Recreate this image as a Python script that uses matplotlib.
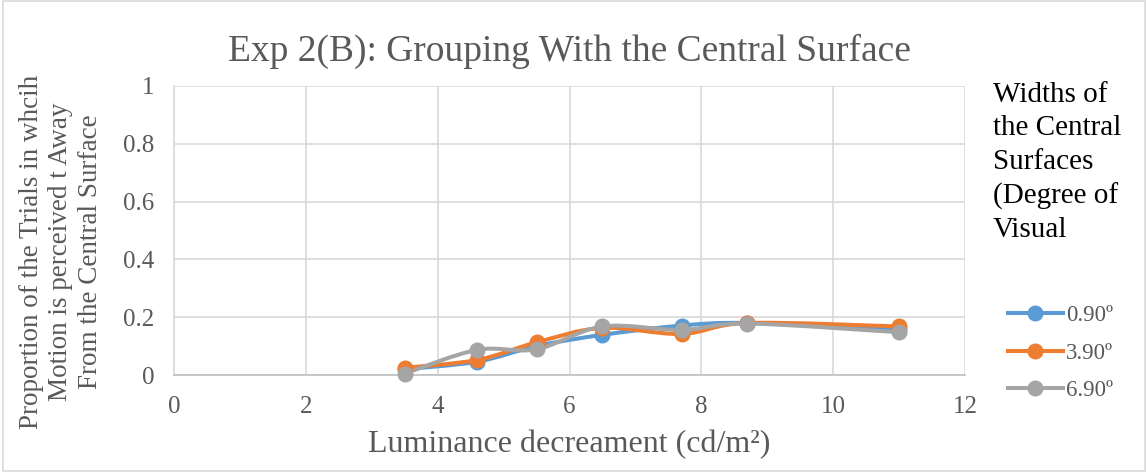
import matplotlib
matplotlib.use("Agg")
import matplotlib.pyplot as plt
from matplotlib.path import Path
from matplotlib.patches import PathPatch, Rectangle
from matplotlib.lines import Line2D
import numpy as np

plt.rcParams['font.family'] = ['Liberation Serif', 'DejaVu Serif']

x_vals = [3.5, 4.6, 5.5, 6.5, 7.7, 8.7, 11.0]
s_090 = [0.020, 0.046, 0.100, 0.139, 0.171, 0.180, 0.160]
s_390 = [0.025, 0.052, 0.113, 0.163, 0.142, 0.180, 0.168]
s_690 = [0.005, 0.087, 0.089, 0.168, 0.156, 0.178, 0.148]
series_labels = ['0.90º', '3.90º', '6.90º']
colors = ['#5B9BD5', '#ED7D31', '#A5A5A5']
title = 'Exp 2(B): Grouping With the Central Surface'
xlabel = 'Luminance decreament (cd/m²)'
ylabel = 'Proportion of the Trials in whcih\nMotion is perceived t Away\nFrom the Central Surface'
legend_title = 'Widths of\nthe Central\nSurfaces\n(Degree of\nVisual'
xticks = [0, 2, 4, 6, 8, 10, 12]
yticks = [0, 0.2, 0.4, 0.6, 0.8, 1.0]
ytick_labels = ['0', '0.2', '0.4', '0.6', '0.8', '1']

fig = plt.figure(figsize=(11.48, 4.72), dpi=100)
fig.patches.append(Rectangle((0.003, 0.003), 0.994, 0.994, transform=fig.transFigure,
                             fill=False, edgecolor='#D9D9D9', linewidth=1.2))
ax = fig.add_axes([174/1148, 1-375/472, (965-174)/1148, (375-86)/472])

def smooth_path(xs, ys):
    pts = np.column_stack([xs, ys])
    verts = [pts[0]]
    codes = [Path.MOVETO]
    n = len(pts)
    for i in range(n - 1):
        p0 = pts[i - 1] if i > 0 else pts[i]
        p1 = pts[i]
        p2 = pts[i + 1]
        p3 = pts[i + 2] if i + 2 < n else pts[i + 1]
        c1 = p1 + (p2 - p0) / 6.0
        c2 = p2 - (p3 - p1) / 6.0
        verts += [c1, c2, p2]
        codes += [Path.CURVE4] * 3
    return Path(verts, codes)

for ys, c in zip([s_090, s_390, s_690], colors):
    patch = PathPatch(smooth_path(x_vals, ys), facecolor='none', edgecolor=c,
                      linewidth=2.9, capstyle='round', joinstyle='round', zorder=3)
    ax.add_patch(patch)
    ax.plot(x_vals, ys, linestyle='none', marker='o', markersize=10.5,
            color=c, zorder=4, clip_on=False)

ax.set_xlim(0, 12)
ax.set_ylim(0, 1)
ax.set_xticks(xticks)
ax.set_xticklabels([str(t) for t in xticks])
ax.set_yticks(yticks)
ax.set_yticklabels(ytick_labels)
ax.grid(True, color='#D9D9D9', linewidth=1.2)
ax.set_axisbelow(True)
for s in ['top', 'right']:
    ax.spines[s].set_visible(False)
ax.spines['left'].set_color('#D9D9D9')
ax.spines['bottom'].set_color('#BFBFBF')
ax.spines['left'].set_linewidth(1.2)
ax.spines['bottom'].set_linewidth(1.2)
ax.tick_params(length=0, labelsize=18, colors='#595959')
ax.tick_params(axis='y', pad=14)
ax.tick_params(axis='x', pad=15)

ax.set_title(title, fontsize=27, color='#595959', pad=18)
ax.set_xlabel(xlabel, fontsize=23, color='#595959', labelpad=9)

fig.text(61/1148, 1-252/472, ylabel, fontsize=19.5, color='#595959',
         rotation=90, ha='center', va='center', multialignment='center',
         linespacing=1.22)

fig.text(993/1148, 1-82/472, legend_title, fontsize=21, color='black',
         ha='left', va='top', linespacing=1.37)

handles = [Line2D([0], [0], color=c, linewidth=2.9, marker='o', markersize=10.5)
           for c in colors]
leg = fig.legend(handles, series_labels, loc='upper left',
                 bbox_to_anchor=(1001/1148, 1-298/472), frameon=False,
                 fontsize=16.5, labelcolor='#595959', handlelength=2.4,
                 handletextpad=0.15, labelspacing=0.73, borderaxespad=0, borderpad=0.3)

fig.savefig('out.png', dpi=100)
